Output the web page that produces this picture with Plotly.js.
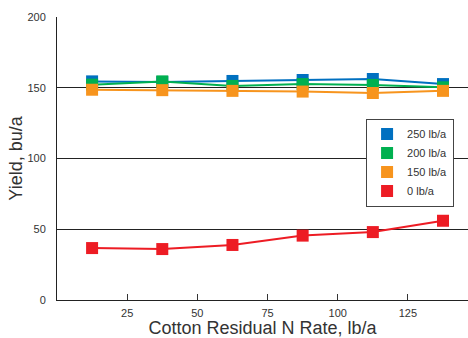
<!DOCTYPE html>
<html>
<head>
<meta charset="utf-8">
<script src="https://cdn.plot.ly/plotly-3.0.1.min.js"></script>
<style>html,body{margin:0;padding:0;background:#fff;}#chart{width:468px;height:338px;}</style>
</head>
<body>
<div id="chart"></div>
<script>
const residualN = [12.5, 37.5, 62.5, 87.5, 112.5, 137.5];
const seriesNames = ["250 lb/a", "200 lb/a", "150 lb/a", "0 lb/a"];
const yield250 = [154.5, 154, 154.8, 155.5, 156.2, 152.6];
const yield200 = [152.2, 154.5, 151.3, 152.6, 152, 150.3];
const yield150 = [148.6, 148.3, 147.8, 147.3, 146.3, 147.8];
const yield0 = [36.7, 36, 38.9, 45.5, 48, 56];
const yTicks = [0, 50, 100, 150, 200];
const xTicks = [25, 50, 75, 100, 125];

const colors = ["#0070C0", "#00B050", "#F7941D", "#ED1C24"];
const series = [yield250, yield200, yield150, yield0];
const font = "Liberation Sans, Arial, sans-serif";

const traces = [];
series.forEach((ys, i) => {
  traces.push({
    x: residualN, y: ys, type: "scatter", mode: "lines+markers",
    name: seriesNames[i], showlegend: false,
    line: {color: colors[i], width: 2},
    marker: {symbol: "square", size: 12, color: colors[i]}
  });
});
series.forEach((ys, i) => {
  traces.push({
    x: [null], y: [null], type: "scatter", mode: "markers",
    name: seriesNames[i], showlegend: true,
    marker: {symbol: "square", size: 12, color: colors[i]}
  });
});

const layout = {
  width: 468, height: 338,
  margin: {l: 57, r: 0, t: 17, b: 38},
  paper_bgcolor: "#fff", plot_bgcolor: "#fff",
  font: {family: font, size: 11, color: "#333"},
  showlegend: true,
  legend: {
    x: 0.752, y: 0.641, xanchor: "left", yanchor: "top",
    bgcolor: "#fff", bordercolor: "#444", borderwidth: 1,
    font: {family: font, size: 11, color: "#333"},
    itemwidth: 30, tracegroupgap: 0
  },
  xaxis: {
    range: [0, 146.4], tickvals: xTicks, ticktext: xTicks.map(String),
    ticks: "inside", ticklen: 6, tickcolor: "#333", tickwidth: 1,
    showline: true, linecolor: "#222", linewidth: 1,
    showgrid: false, zeroline: false,
    ticklabelstandoff: 3,
    tickfont: {family: font, size: 11, color: "#333"},
    title: {text: "Cotton Residual N Rate, lb/a", font: {family: font, size: 18, color: "#333"}, standoff: 9}
  },
  yaxis: {
    range: [0, 200], tickvals: yTicks, ticktext: yTicks.map(String),
    ticks: "", showline: true, linecolor: "#222", linewidth: 1,
    showgrid: true, gridcolor: "#222", gridwidth: 1, zeroline: false,
    ticklabelstandoff: 8,
    tickfont: {family: font, size: 11, color: "#333"},
    title: {text: "Yield, bu/a", font: {family: font, size: 18, color: "#333"}, standoff: 0}
  }
};

Plotly.newPlot("chart", traces, layout, {displayModeBar: false, staticPlot: true});
</script>
</body>
</html>
